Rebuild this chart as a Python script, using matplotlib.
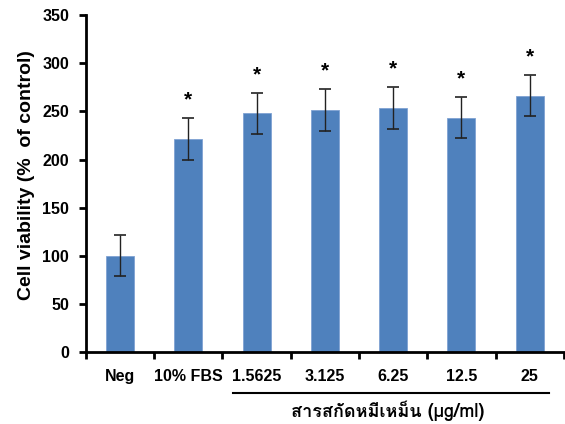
import matplotlib
matplotlib.use("Agg")
import matplotlib.pyplot as plt
from matplotlib import font_manager
from matplotlib.ft2font import FT2Font

# --- Dados ---
categorias = ["Neg", "10% FBS", "1.5625", "3.125", "6.25", "12.5", "25"]
viabilidade = [100, 221.5, 248, 251.5, 253.5, 243.5, 266.5]
erro = [21.5, 21.5, 21.5, 21.5, 21.5, 21.5, 21.5]
significativo = [False, True, True, True, True, True, True]
titulo_x = "สารสกัดหมีเหม็น (µg/ml)"
titulo_y = "Cell viability (%  of control)"
y_ticks = [0, 50, 100, 150, 200, 250, 300, 350]

AZUL = "#4F81BD"


def achar_fonte_thai():
    # procura alguma fonte instalada que tenha glifos tailandeses
    for f in font_manager.fontManager.ttflist:
        try:
            cmap = FT2Font(f.fname).get_charmap()
        except Exception:
            continue
        if 0x0E2A in cmap and 0x0E2B in cmap:
            return f.name
    return None


fonte_thai = achar_fonte_thai()
familia_thai = [fonte_thai, "Liberation Sans", "DejaVu Sans"] if fonte_thai else ["Liberation Sans", "DejaVu Sans"]

plt.rcParams["font.family"] = ["Liberation Sans", "DejaVu Sans"]
plt.rcParams["font.weight"] = "bold"

fig = plt.figure(figsize=(5.65, 4.24), dpi=100)
ax = fig.add_axes([0.152, 0.170, 0.846, 0.794])

x = list(range(len(categorias)))
ax.bar(x, viabilidade, width=0.41, color=AZUL, edgecolor="#7FA2D3", linewidth=0.6, zorder=2)
ax.errorbar(x, viabilidade, yerr=erro, fmt="none", ecolor="#222222",
            elinewidth=1.0, capsize=4.5, capthick=1.2, zorder=3)

# asteriscos de significancia
for xi, v, e, s in zip(x, viabilidade, erro, significativo):
    if s:
        ax.text(xi, v + e + 9, "*", ha="center", va="bottom", fontsize=15,
                fontweight="bold", color="black")

ax.set_xlim(-0.5, len(categorias) - 0.5)
ax.set_ylim(0, 350)
ax.set_yticks(y_ticks)
ax.set_yticklabels([str(t) for t in y_ticks], fontsize=11.5, fontweight="bold")

ax.set_xticks(x)
ax.set_xticklabels(categorias, fontsize=11.5, fontweight="bold")
ax.set_xticks([i - 0.5 for i in range(len(categorias) + 1)], minor=True)
ax.tick_params(axis="x", which="major", length=0, pad=12)
ax.tick_params(axis="x", which="minor", length=5, width=2, direction="out")
ax.tick_params(axis="y", length=5, width=2, direction="out", pad=7)

for lado in ["top", "right"]:
    ax.spines[lado].set_visible(False)
for lado in ["left", "bottom"]:
    ax.spines[lado].set_linewidth(2)
    ax.spines[lado].set_color("black")

ax.set_ylabel(titulo_y, fontsize=14, fontweight="bold")
ax.yaxis.set_label_coords(-0.107, 0.525)

# linha agrupando as concentracoes do extrato
trans = ax.get_xaxis_transform()
ax.plot([1.66, 6.28], [-0.122, -0.122], color="black", linewidth=1.5,
        transform=trans, clip_on=False)
ax.text(3.92, -0.175, titulo_x, transform=trans, ha="center", va="center",
        fontsize=13, fontweight="bold", family=familia_thai)

fig.savefig("out.png", dpi=100)
